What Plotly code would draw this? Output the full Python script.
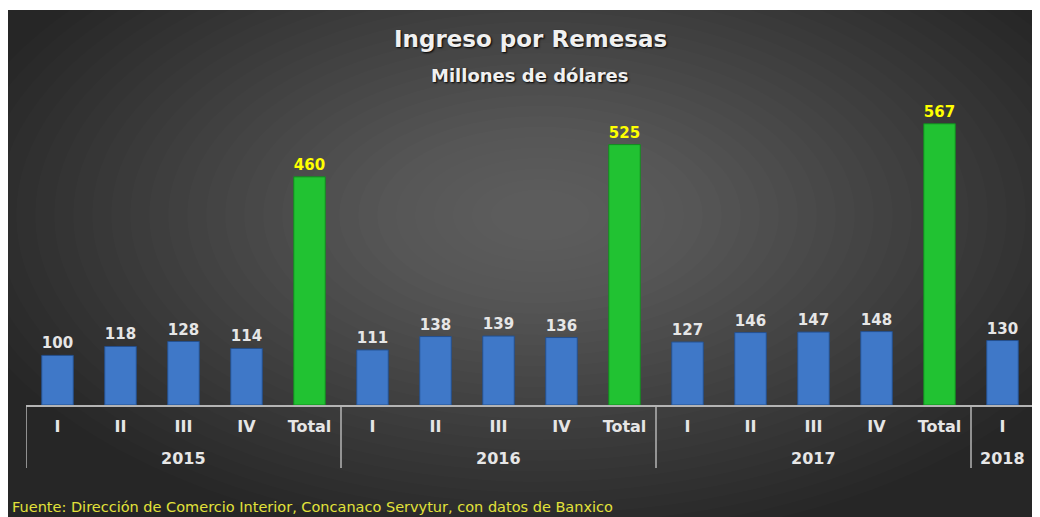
import plotly.graph_objects as go

years = ["2015"] * 5 + ["2016"] * 5 + ["2017"] * 5 + ["2018"]
quarters = ["I", "II", "III", "IV", "Total"] * 3 + ["I"]
values = [100, 118, 128, 114, 460, 111, 138, 139, 136, 525, 127, 146, 147, 148, 567, 130]
year_labels = ["2015", "2016", "2017", "2018"]

keys = [f"{q} {y}" for q, y in zip(quarters, years)]

# page body has an 8px margin: figure occupies page pixels 8..1037 x 8..517
OX, OY = 8, 8
W, H = 1029, 509
L, R, T, B = 18, 3, 87, 112
PW, PH = W - L - R, H - T - B
YMAX = 625


def px(X):
    return (X - OX - L) / PW


def py(Y):
    return (H - B - (Y - OY)) / PH


colors = ["#21c232" if q == "Total" else "#3f78c8" for q in quarters]
lines = ["#138a1f" if q == "Total" else "#24508f" for q in quarters]
tcolors = ["#ffff00" if q == "Total" else "#e6e6e6" for q in quarters]

fig = go.Figure(
    go.Bar(
        x=keys,
        y=values,
        marker=dict(color=colors, line=dict(color=lines, width=1)),
        text=[str(v) for v in values],
        textposition="outside",
        cliponaxis=False,
        textfont=dict(color=tcolors, size=15, family="DejaVu Sans", weight="bold"),
    )
)

shapes = [
    dict(type="rect", xref="paper", yref="paper", x0=px(0), x1=px(1040), y0=py(8), y1=py(10),
         fillcolor="#ffffff", line=dict(width=0), layer="below"),
]
# radial glow approximated by stacked translucent ellipses
cx, cy = 540, 215
n = 30
for i in range(n):
    rx = 600 - i * 19
    ry = 330 - i * 10.5
    shapes.append(dict(type="circle", xref="paper", yref="paper",
                       x0=px(cx - rx), x1=px(cx + rx),
                       y0=py(cy + ry), y1=py(cy - ry),
                       fillcolor="rgba(255,255,255,0.0105)", line=dict(width=0), layer="below"))

# group dividers and year labels
starts = []
for i, y in enumerate(years):
    if i == 0 or years[i - 1] != y:
        starts.append(i)
bounds = starts + [len(years)]
for b in bounds:
    shapes.append(dict(type="line", xref="x", yref="paper", x0=b - 0.5, x1=b - 0.5,
                       y0=py(405), y1=py(468), line=dict(color="#b4b4b4", width=1.5)))

annotations = [
    dict(text="Ingreso por Remesas", x=px(530), y=py(39), xref="paper", yref="paper",
         showarrow=False, yanchor="middle",
         font=dict(family="DejaVu Sans", size=23, color="#f0f0f0", weight="bold",
                   shadow="1px 1px 2px #000000")),
    dict(text="Millones de dólares", x=px(530), y=py(75), xref="paper", yref="paper",
         showarrow=False, yanchor="middle",
         font=dict(family="DejaVu Sans", size=18, color="#f0f0f0", weight="bold",
                   shadow="1px 1px 2px #000000")),
    dict(text="Fuente: Dirección de Comercio Interior, Concanaco Servytur, con datos de Banxico",
         x=px(10), y=py(507), xref="paper", yref="paper", xanchor="left", yanchor="middle",
         showarrow=False, font=dict(family="DejaVu Sans", size=14.5, color="#e2e23a")),
]
for s, e, yl in zip(bounds[:-1], bounds[1:], year_labels):
    annotations.append(dict(text=yl, x=(s + e - 1) / 2, y=py(458), xref="x", yref="paper",
                            showarrow=False, yanchor="middle",
                            font=dict(family="DejaVu Sans", size=16, color="#e6e6e6", weight="bold")))

fig.update_layout(
    width=W, height=H,
    margin=dict(l=L, r=R, t=T, b=B, pad=0),
    paper_bgcolor="#262626",
    plot_bgcolor="rgba(0,0,0,0)",
    bargap=0.5,
    showlegend=False,
    shapes=shapes,
    annotations=annotations,
    xaxis=dict(
        type="category", range=[-0.5, len(keys) - 0.5],
        tickmode="array", tickvals=keys, ticktext=quarters,
        showline=True, linecolor="#b4b4b4", linewidth=1.5,
        tickfont=dict(family="DejaVu Sans", size=16, color="#e6e6e6", weight="bold"),
        ticklabelstandoff=6,
        showgrid=False, ticks="",
    ),
    yaxis=dict(visible=False, range=[0, YMAX], showgrid=False, zeroline=False),
)

fig.write_html("out.html")
